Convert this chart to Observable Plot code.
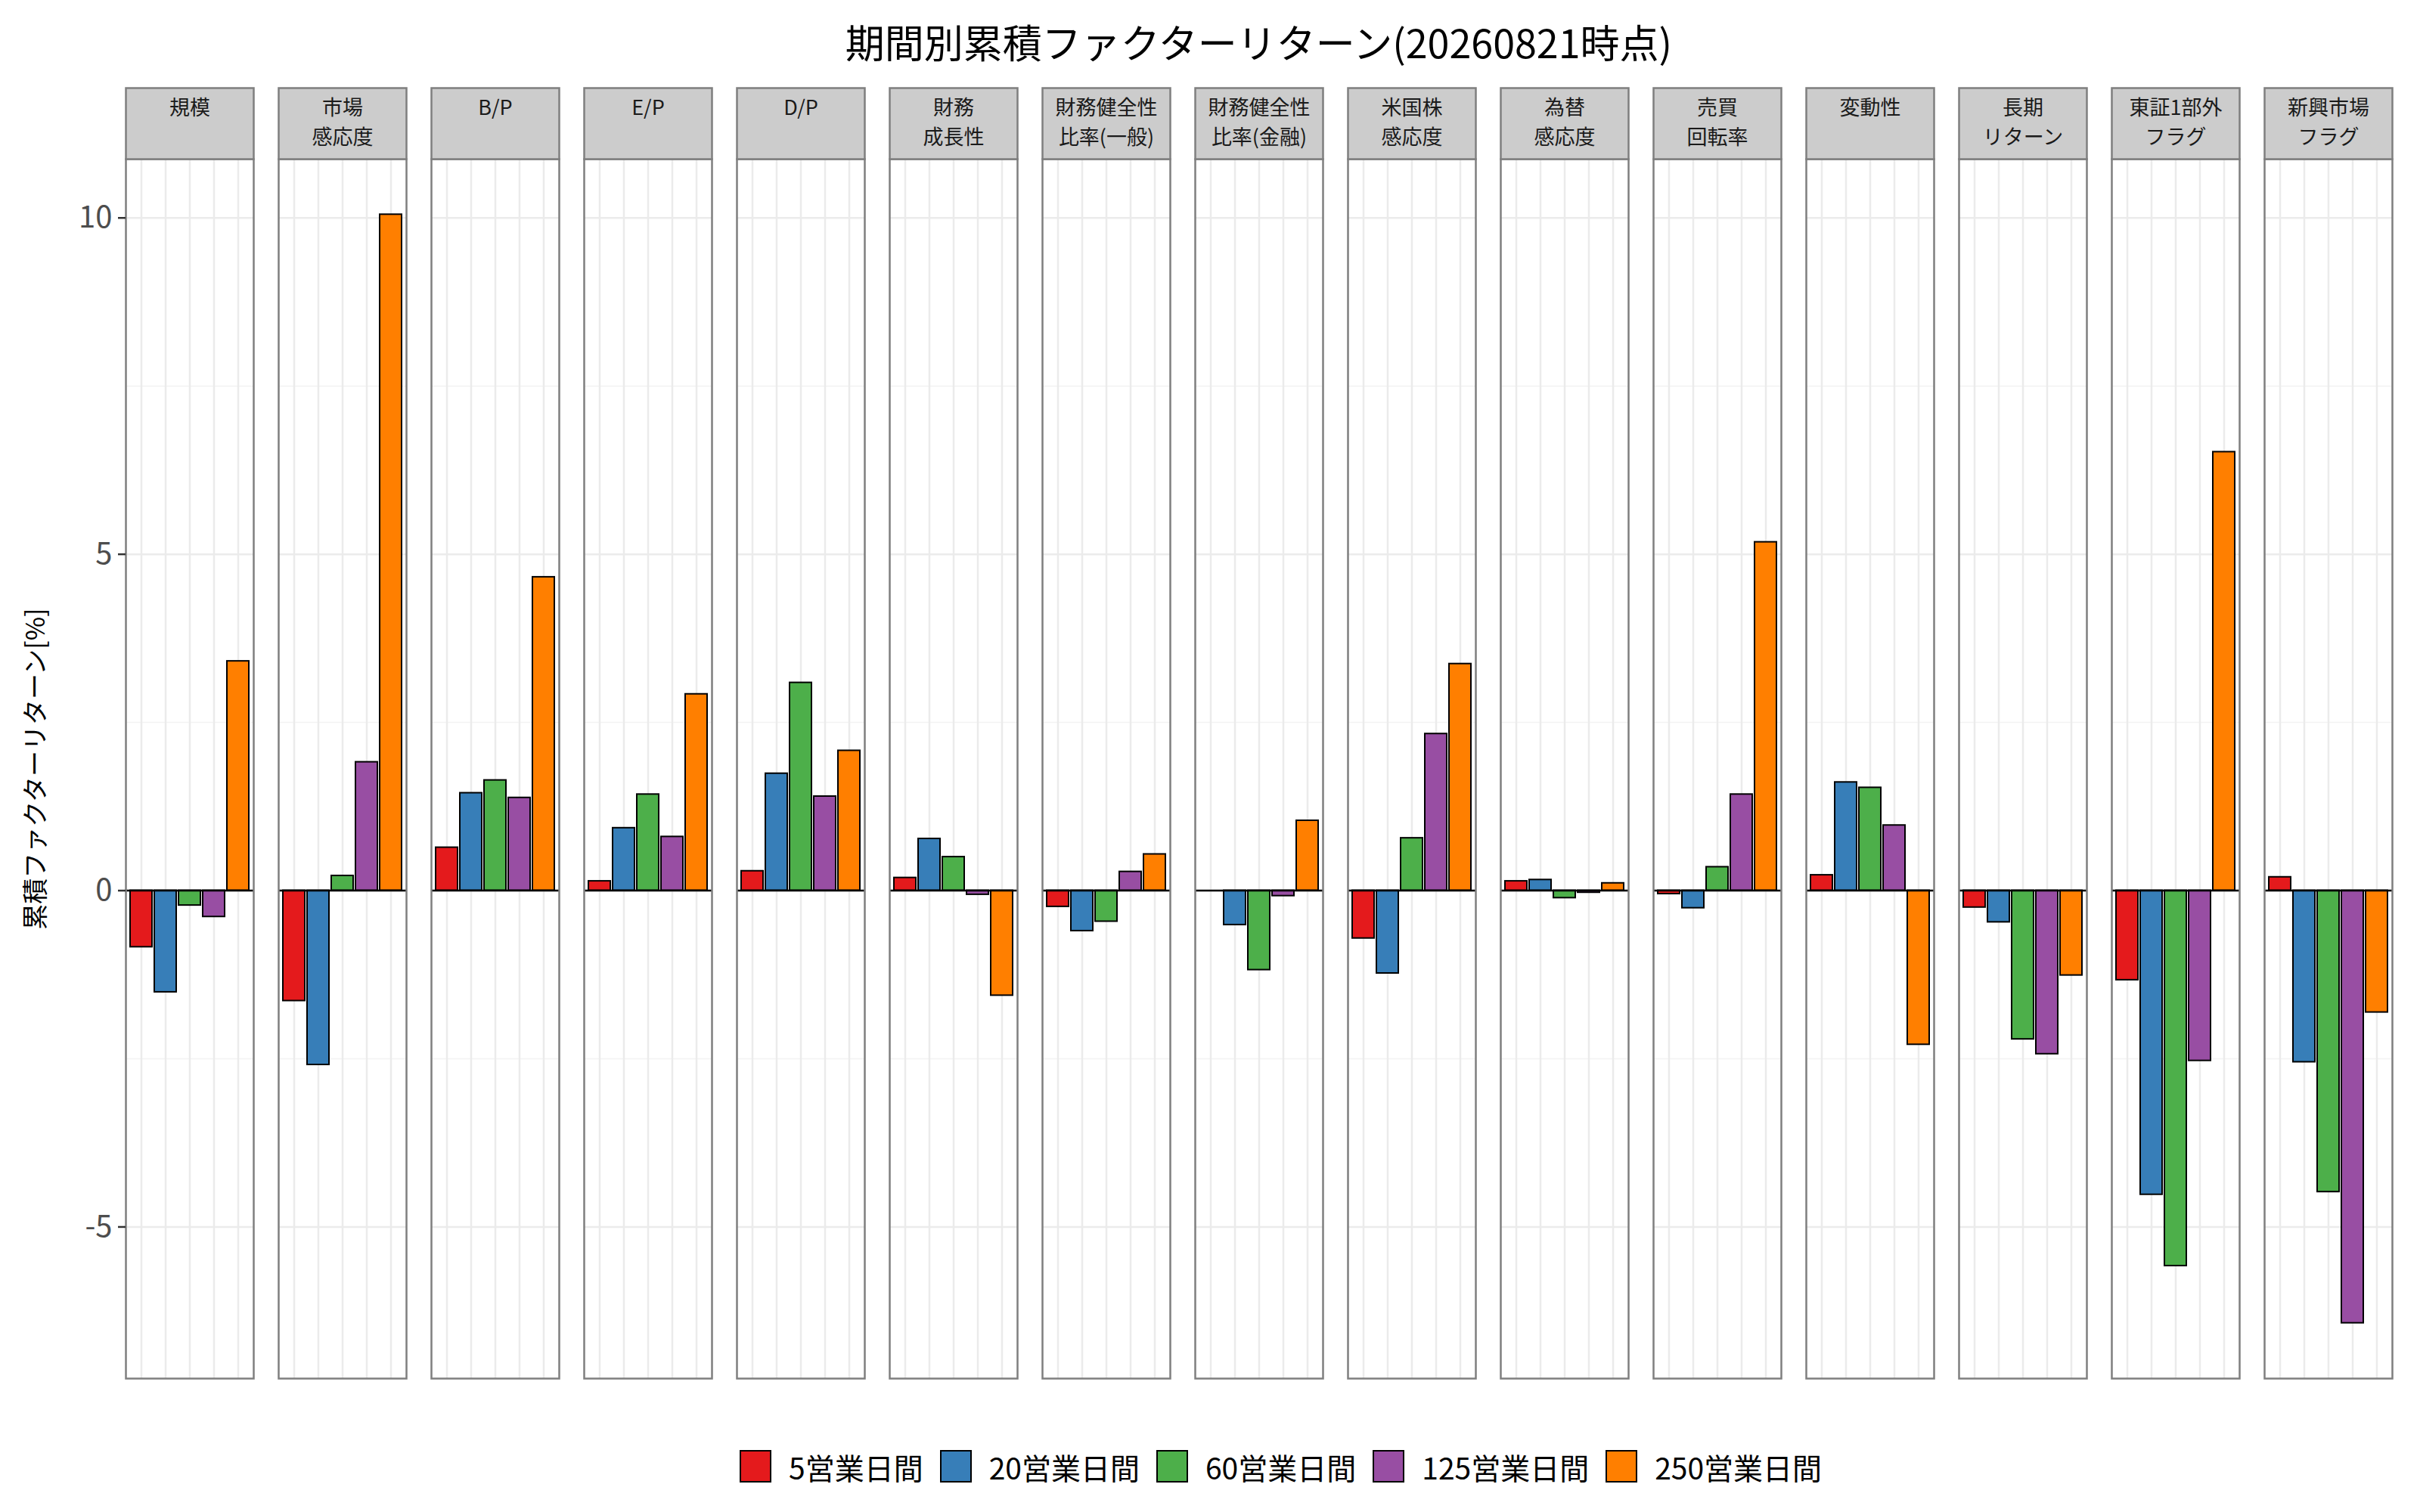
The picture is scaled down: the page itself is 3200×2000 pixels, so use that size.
<!DOCTYPE html>
<html><head><meta charset="utf-8">
<script src="https://cdn.jsdelivr.net/npm/d3@7"></script>
<script src="https://cdn.jsdelivr.net/npm/@observablehq/plot@0.6"></script>
<style>
html,body{margin:0;padding:0;background:#fff;}
body{width:3200px;height:2000px;position:relative;font-family:"Noto Sans CJK JP",sans-serif;overflow:hidden;}
#title{position:absolute;left:163px;width:3003px;top:0;height:110px;line-height:110px;text-align:center;font-size:52px;color:#000;}
#chart{position:absolute;left:0;top:100px;}
#legend{position:absolute;top:1918px;left:978px;display:flex;align-items:center;height:43px;font-size:39px;color:#000;}
.key{width:42px;height:43px;box-sizing:border-box;border:2px solid #000;margin-right:23px;flex:none;}
.lab{margin-right:22px;white-space:nowrap;}
</style></head><body>
<div id="title"></div><div id="chart"></div><div id="legend"></div>
<script>
const title = "期間別累積ファクターリターン(20260821時点)";
const yLabel = "累積ファクターリターン[%]";
const factors = ["規模","市場\n感応度","B/P","E/P","D/P","財務\n成長性","財務健全性\n比率(一般)","財務健全性\n比率(金融)","米国株\n感応度","為替\n感応度","売買\n回転率","変動性","長期\nリターン","東証1部外\nフラグ","新興市場\nフラグ"];
const periods = ["5営業日間","20営業日間","60営業日間","125営業日間","250営業日間"];
const colors = ["#E41A1C","#377EB8","#4DAF4A","#984EA3","#FF7F00"];
const yTicks = [-5, 0, 5, 10];

const ret5   = [-0.84, -1.64, 0.64, 0.14, 0.29, 0.19, -0.24, 0.00, -0.71, 0.14, -0.05, 0.23, -0.25, -1.33, 0.20];
const ret20  = [-1.51, -2.59, 1.45, 0.93, 1.74, 0.77, -0.60, -0.51, -1.23, 0.16, -0.26, 1.61, -0.47, -4.52, -2.55];
const ret60  = [-0.22, 0.22, 1.64, 1.43, 3.09, 0.50, -0.46, -1.18, 0.78, -0.11, 0.35, 1.53, -2.21, -5.58, -4.48];
const ret125 = [-0.39, 1.91, 1.38, 0.80, 1.40, -0.06, 0.28, -0.08, 2.33, -0.03, 1.43, 0.97, -2.43, -2.53, -6.43];
const ret250 = [3.41, 10.05, 4.66, 2.92, 2.08, -1.56, 0.54, 1.04, 3.37, 0.11, 5.18, -2.29, -1.26, 6.52, -1.81];

const series = [ret5, ret20, ret60, ret125, ret250];
const data = [];
factors.forEach((f, i) => periods.forEach((p, j) => data.push({factor: f, period: p, value: series[j][i]})));

const lo = d3.min(data, d => d.value), hi = d3.max(data, d => d.value);
const pad = 0.05 * (hi - lo);
const minor = yTicks.slice(1).map((t, i) => (t + yTicks[i]) / 2);

const W = 3200, H = 1783, mT = 110, mB = 60, mL = 162, mR = 32;
const panelH = H - mT - mB, stripH = 94;

document.getElementById("title").textContent = title;

const chart = Plot.plot({
  width: W, height: H,
  marginLeft: mL, marginRight: mR, marginTop: mT, marginBottom: mB,
  style: {fontFamily: "'Noto Sans CJK JP', sans-serif", background: "white", overflow: "visible"},
  fx: {domain: factors, paddingInner: 0.163, paddingOuter: 0, axis: null, label: null},
  x: {domain: periods, paddingInner: 0.1, paddingOuter: 0.15, axis: null},
  y: {domain: [lo - pad, hi + pad], axis: null},
  color: {domain: periods, range: colors},
  marks: [
    Plot.gridY(minor, {stroke: "#F3F3F3", strokeOpacity: 1, strokeWidth: 1.5}),
    Plot.gridY(yTicks, {stroke: "#EBEBEB", strokeOpacity: 1, strokeWidth: 2.5}),
    Plot.gridX(periods, {stroke: "#EBEBEB", strokeOpacity: 1, strokeWidth: 2.5}),
    Plot.barY(data, {fx: "factor", x: "period", y: "value", fill: "period", stroke: "#000", strokeWidth: 2}),
    Plot.ruleY([0], {stroke: "#000", strokeWidth: 2.5}),
    Plot.frame({stroke: "#7F7F7F", strokeWidth: 2.5}),
    Plot.frame({fill: "#CCCCCC", stroke: "#7F7F7F", strokeWidth: 2.5, insetBottom: panelH - stripH, dy: -stripH}),
    Plot.text(factors, {fx: d => d, text: d => d, frameAnchor: "top", lineAnchor: "top", dy: -stripH + 8, lineHeight: 1.44, fontSize: 27, fill: "#1A1A1A"}),
    Plot.axisY(yTicks, {anchor: "left", fontSize: 40, tickSize: 10, tickPadding: 8, tickFormat: d => String(d), stroke: "#333333", strokeWidth: 2.5, fill: "#4D4D4D", label: null}),
    Plot.text([yLabel], {fx: () => factors[0], frameAnchor: "left", textAnchor: "middle", rotate: -90, dx: -118, fontSize: 34, text: d => d, fill: "#000"})
  ]
});
document.getElementById("chart").appendChild(chart);

const legend = document.getElementById("legend");
periods.forEach((p, j) => {
  const k = document.createElement("div");
  k.className = "key"; k.style.background = colors[j];
  const t = document.createElement("div");
  t.className = "lab"; t.textContent = p;
  legend.appendChild(k); legend.appendChild(t);
});
</script>
</body></html>
